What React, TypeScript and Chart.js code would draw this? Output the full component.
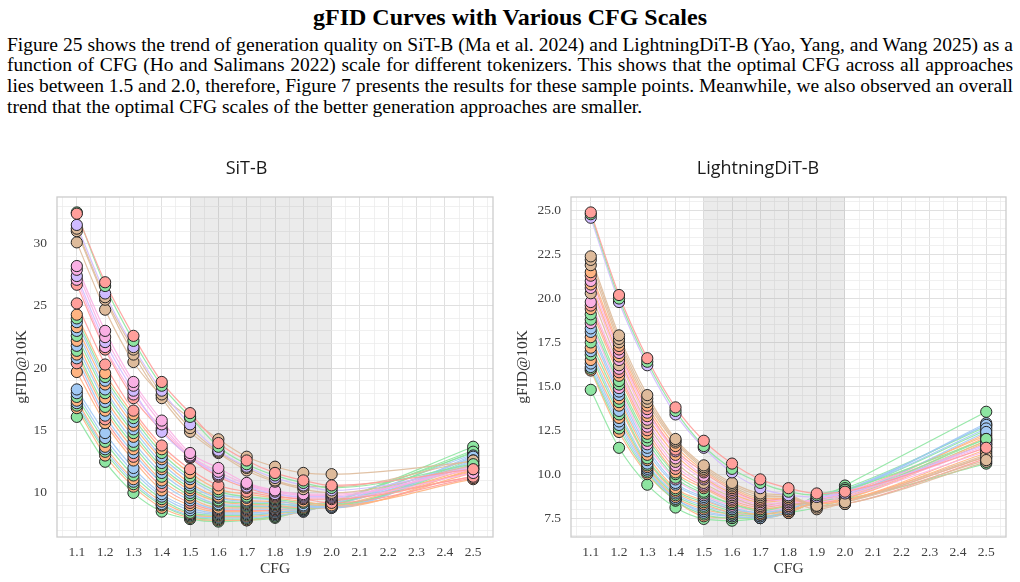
import { useEffect, useRef } from 'react';
import { Chart, registerables } from 'chart.js';

Chart.register(...registerables);

// CFG scales that were sampled for every tokenizer
const cfgScales = [1.1, 1.2, 1.3, 1.4, 1.5, 1.6, 1.7, 1.8, 1.9, 2.0, 2.5];
const cfgTickLabels = ['1.1', '1.2', '1.3', '1.4', '1.5', '1.6', '1.7', '1.8', '1.9', '2.0', '2.1', '2.2', '2.3', '2.4', '2.5'];
const optimalBand = [1.5, 2.0];

const pastel: Record<string, string> = {
  blue: '#a1c9f4',
  orange: '#ffb482',
  green: '#8de5a1',
  red: '#ff9f9b',
  purple: '#d0bbff',
  brown: '#debb9b',
  pink: '#fab0e4',
};

// ---- SiT-B: gFID@10K per tokenizer, one value per CFG scale ----
const sitWeakCurves = [
  [32.4, 26.9, 22.6, 18.9, 16.4, 14.0, 12.6, 11.6, 11.0, 10.6, 11.9],
  [32.5, 26.6, 22.2, 18.6, 16.1, 13.7, 12.3, 11.4, 10.8, 10.4, 12.3],
  [31.5, 26.0, 21.7, 18.2, 15.5, 13.4, 12.1, 11.2, 10.6, 10.2, 12.0],
  [31.2, 25.7, 21.5, 17.9, 15.2, 13.3, 12.0, 11.0, 10.5, 10.5, 12.6],
  [31.0, 25.5, 21.1, 17.6, 14.9, 13.2, 11.8, 10.9, 10.3, 10.0, 12.2],
  [30.1, 24.7, 20.5, 17.8, 16.0, 14.3, 12.9, 12.1, 11.6, 11.5, 12.5],
];
const sitWeakColors = ['red', 'green', 'purple', 'brown', 'brown', 'brown'];

const sitMidCurves = [
  [28.2, 23.0, 18.9, 15.8, 13.2, 12.0, 10.8, 10.2, 9.9, 9.9, 11.9],
  [27.9, 22.5, 18.6, 15.5, 13.0, 11.7, 10.7, 10.1, 9.8, 9.8, 12.1],
  [27.4, 22.1, 18.2, 14.9, 12.9, 11.5, 10.5, 9.9, 9.7, 9.7, 12.2],
  [27.1, 21.7, 17.9, 15.2, 12.9, 11.4, 10.6, 10.0, 9.6, 9.6, 11.6],
  [26.7, 21.5, 17.6, 15.0, 12.8, 11.3, 10.4, 9.8, 9.5, 9.5, 11.3],
];
const sitMidColors = ['pink', 'pink', 'purple', 'pink', 'red'];

const sitStrongCurves = [
  [25.2, 20.3, 16.6, 13.8, 11.9, 10.6, 10.1, 9.7, 9.5, 9.2, 11.2],
  [24.3, 19.6, 16.3, 13.5, 11.6, 10.3, 9.9, 9.6, 9.3, 9.0, 11.1],
  [24.0, 19.3, 16.0, 13.2, 11.3, 10.1, 9.7, 9.5, 9.2, 9.1, 12.3],
  [23.7, 19.0, 15.7, 12.9, 11.1, 9.9, 9.6, 9.4, 9.0, 8.9, 12.6],
  [23.3, 18.7, 15.4, 12.7, 10.8, 9.7, 9.4, 9.3, 9.1, 8.9, 11.6],
  [23.0, 18.3, 15.1, 12.4, 10.6, 9.6, 9.3, 9.2, 8.9, 8.8, 12.9],
  [22.6, 18.0, 14.8, 12.1, 10.4, 9.4, 9.2, 9.1, 9.0, 9.0, 12.7],
  [22.2, 17.6, 14.5, 11.9, 10.2, 9.3, 9.1, 9.0, 8.8, 8.9, 11.8],
  [21.8, 17.3, 14.1, 11.6, 10.0, 9.1, 9.0, 8.9, 8.9, 8.9, 13.0],
  [21.4, 16.9, 13.8, 11.3, 9.8, 9.0, 8.9, 8.9, 8.7, 9.0, 13.3],
  [21.1, 16.6, 13.5, 11.0, 9.6, 8.8, 8.8, 8.8, 8.8, 8.8, 11.9],
  [20.8, 16.2, 13.2, 10.8, 9.4, 8.7, 8.7, 8.7, 8.7, 9.0, 12.4],
  [20.4, 15.9, 12.9, 10.5, 9.2, 8.6, 8.6, 8.6, 9.0, 9.3, 11.3],
  [19.7, 15.6, 12.6, 10.2, 9.0, 8.5, 8.5, 8.6, 8.7, 8.9, 12.0],
  [18.3, 14.8, 12.0, 9.9, 8.8, 8.4, 8.4, 8.5, 8.6, 9.1, 13.1],
  [18.0, 14.4, 11.7, 9.7, 8.6, 8.3, 8.3, 8.4, 8.7, 9.0, 12.8],
  [17.7, 14.1, 11.4, 9.5, 8.4, 8.2, 8.2, 8.4, 8.6, 9.2, 13.7],
  [17.4, 13.7, 11.1, 9.3, 8.3, 8.1, 8.1, 8.3, 8.6, 9.0, 12.2],
  [17.2, 13.5, 10.9, 9.1, 8.2, 8.0, 8.0, 8.2, 8.5, 9.1, 12.5],
  [17.0, 13.3, 10.7, 9.0, 8.1, 7.9, 7.9, 8.1, 8.6, 9.2, 13.4],
  [16.8, 13.0, 10.5, 8.8, 8.0, 7.8, 7.8, 8.1, 8.5, 9.1, 11.7],
  [16.1, 12.5, 10.0, 8.5, 7.9, 7.7, 7.8, 8.0, 8.6, 9.3, 13.2],
];
const sitStrongColors = [
  'red', 'orange', 'green', 'blue', 'orange', 'blue', 'green', 'orange', 'blue', 'green', 'orange',
  'blue', 'red', 'orange', 'blue', 'blue', 'green', 'orange', 'blue', 'green', 'orange', 'green',
];

// ---- LightningDiT-B ----
const ldtWeakCurves = [
  [24.9, 20.2, 16.6, 13.8, 11.9, 10.6, 9.7, 9.2, 8.9, 9.0, 11.5],
  [24.8, 20.0, 16.4, 13.6, 11.6, 10.3, 9.5, 9.0, 8.8, 9.1, 12.0],
  [24.6, 19.8, 16.2, 13.4, 11.5, 10.1, 9.2, 8.8, 8.7, 8.9, 11.7],
];
const ldtWeakColors = ['red', 'green', 'purple'];

const ldtStrongCurves = [
  [22.4, 17.9, 14.5, 12.0, 10.5, 9.5, 8.9, 8.8, 8.2, 8.4, 10.8],
  [22.2, 17.7, 14.3, 11.9, 10.4, 9.4, 8.8, 8.7, 8.2, 8.3, 10.7],
  [21.9, 17.5, 14.1, 11.8, 10.3, 9.3, 8.7, 8.7, 8.1, 8.4, 11.0],
  [21.5, 17.3, 13.9, 11.6, 10.2, 9.2, 8.6, 8.6, 8.3, 8.5, 11.2],
  [21.3, 17.1, 13.7, 11.4, 10.1, 9.1, 8.5, 8.6, 8.2, 8.3, 10.9],
  [21.0, 16.9, 13.5, 11.3, 9.9, 9.0, 8.5, 8.5, 8.4, 8.7, 11.3],
  [20.8, 16.7, 13.3, 11.1, 9.8, 8.9, 8.4, 8.5, 8.3, 8.5, 11.4],
  [20.6, 16.5, 13.1, 10.9, 9.7, 8.8, 8.3, 8.4, 8.5, 8.8, 11.5],
  [20.3, 16.2, 12.9, 10.7, 9.5, 8.7, 8.2, 8.4, 8.0, 8.4, 11.1],
  [19.8, 16.0, 12.7, 10.5, 9.4, 8.6, 8.2, 8.3, 8.6, 8.9, 11.6],
  [19.6, 15.8, 12.5, 10.3, 9.3, 8.5, 8.1, 8.3, 8.4, 8.5, 11.0],
  [19.4, 15.6, 12.3, 10.1, 9.2, 8.4, 8.0, 8.2, 8.4, 8.6, 11.8],
  [19.1, 15.3, 12.1, 10.0, 9.0, 8.3, 8.0, 8.2, 8.5, 8.8, 12.0],
  [18.8, 15.1, 11.9, 9.8, 8.9, 8.3, 7.9, 8.2, 8.5, 8.6, 10.6],
  [18.6, 14.9, 11.7, 9.7, 8.8, 8.2, 7.9, 8.1, 8.6, 9.0, 11.7],
  [18.3, 14.7, 11.5, 9.5, 8.7, 8.1, 7.8, 8.1, 8.5, 8.8, 12.4],
  [18.1, 14.5, 11.3, 9.4, 8.6, 8.0, 7.8, 8.0, 8.6, 9.0, 12.6],
  [17.8, 14.3, 11.1, 9.2, 8.5, 8.0, 7.7, 8.0, 8.3, 8.6, 11.9],
  [17.5, 14.1, 10.9, 9.1, 8.4, 7.9, 7.7, 8.0, 8.6, 9.0, 12.5],
  [17.2, 13.9, 10.8, 9.0, 8.3, 7.8, 7.7, 7.9, 8.4, 8.7, 12.1],
  [17.0, 13.6, 10.6, 8.9, 8.2, 7.8, 7.6, 7.9, 8.7, 9.1, 12.8],
  [16.8, 13.4, 10.5, 8.8, 8.1, 7.7, 7.6, 7.9, 8.8, 9.2, 12.7],
  [16.5, 13.2, 10.4, 8.7, 8.0, 7.7, 7.6, 7.8, 8.5, 8.8, 12.3],
  [16.3, 13.0, 10.3, 8.6, 7.9, 7.6, 7.5, 7.8, 8.6, 9.0, 12.9],
  [16.1, 12.8, 10.2, 8.6, 7.8, 7.6, 7.5, 7.9, 8.8, 9.1, 12.8],
  [16.0, 12.6, 10.1, 8.5, 7.7, 7.5, 7.5, 7.8, 8.5, 9.35, 13.55],
  [15.9, 12.4, 10.0, 8.5, 7.6, 7.5, 7.5, 7.8, 8.5, 8.9, 12.2],
  [14.8, 11.5, 9.4, 8.1, 7.45, 7.35, 7.5, 7.8, 8.1, 8.6, 11.9],
];
const ldtStrongColors = [
  'brown', 'brown', 'brown', 'orange', 'red', 'pink', 'orange', 'pink', 'brown', 'pink', 'red', 'orange',
  'green', 'green', 'pink', 'blue', 'blue', 'orange', 'green', 'orange', 'blue', 'green', 'orange', 'blue',
  'blue', 'green', 'orange', 'green',
];

const paragraphLines = [
  'Figure 25 shows the trend of generation quality on SiT-B (Ma et al. 2024) and LightningDiT-B (Yao, Yang, and Wang 2025) as a',
  'function of CFG (Ho and Salimans 2022) scale for different tokenizers. This shows that the optimal CFG across all approaches',
  'lies between 1.5 and 2.0, therefore, Figure 7 presents the results for these sample points. Meanwhile, we also observed an overall',
  'trend that the optimal CFG scales of the better generation approaches are smaller.',
];

const SERIF = '"Liberation Serif", "Times New Roman", serif';
const SANS = '"Open Sans", "Noto Sans", sans-serif';

function withAlpha(hex: string, a: number) {
  const n = parseInt(hex.slice(1), 16);
  return `rgba(${(n >> 16) & 255}, ${(n >> 8) & 255}, ${n & 255}, ${a})`;
}

function gridValues(min: number, max: number, step: number) {
  const out: number[] = [];
  for (let k = Math.ceil(min / step - 1e-9); k * step <= max + 1e-9; k++) {
    out.push(+(k * step).toFixed(4));
  }
  return out;
}

function onStep(v: number, step: number) {
  const r = v / step;
  return Math.abs(r - Math.round(r)) < 1e-6;
}

// shaded CFG band plus the light frame around the plotting area
const bandAndFrame = {
  id: 'bandAndFrame',
  beforeDatasetsDraw(chart: any) {
    const { ctx, chartArea, scales } = chart;
    const x0 = scales.x.getPixelForValue(optimalBand[0]);
    const x1 = scales.x.getPixelForValue(optimalBand[1]);
    ctx.save();
    ctx.fillStyle = 'rgba(128, 128, 128, 0.16)';
    ctx.fillRect(x0, chartArea.top, x1 - x0, chartArea.bottom - chartArea.top);
    ctx.restore();
  },
  afterDraw(chart: any) {
    const { ctx, chartArea } = chart;
    ctx.save();
    ctx.strokeStyle = '#cccccc';
    ctx.lineWidth = 1.3;
    ctx.strokeRect(chartArea.left, chartArea.top, chartArea.right - chartArea.left, chartArea.bottom - chartArea.top);
    ctx.restore();
  },
};

type PanelProps = {
  title: string;
  curves: number[][];
  colors: string[];
  yMin: number;
  yMax: number;
  yMajor: number;
  yMinor: number;
  yDigits: number;
  axisWidth: number;
  yTitleGap: number;
  rightGap: number;
  left: number;
};

function GfidPanel(p: PanelProps) {
  const ref = useRef<HTMLCanvasElement>(null);

  useEffect(() => {
    if (!ref.current) return;
    const lineSets = p.curves.map((vals, i) => ({
      data: cfgScales.map((x, j) => ({ x, y: vals[j] })),
      borderColor: withAlpha(pastel[p.colors[i]], 0.9),
      borderWidth: 1.2,
      pointRadius: 0,
      fill: false,
      cubicInterpolationMode: 'monotone' as const,
      order: 2,
    }));
    const dotSets = p.curves.map((vals, i) => ({
      data: cfgScales.map((x, j) => ({ x, y: vals[j] })),
      showLine: false,
      pointRadius: 5.6,
      pointBackgroundColor: pastel[p.colors[i]],
      pointBorderColor: '#262626',
      pointBorderWidth: 1,
      order: 1,
    }));

    const xMin = 1.03;
    const xMax = 2.57;
    const gridFont = { family: SERIF, size: 13.5 };

    const chart = new Chart(ref.current, {
      type: 'line',
      data: { datasets: [...lineSets, ...dotSets] as any },
      plugins: [bandAndFrame],
      options: {
        responsive: false,
        animation: false,
        events: [],
        layout: { padding: { left: 0, right: p.rightGap, top: 0, bottom: 0 } },
        plugins: {
          legend: { display: false },
          tooltip: { enabled: false },
          title: {
            display: true,
            text: p.title,
            color: '#1a1a1a',
            font: { family: SANS, size: 18, weight: 'normal', lineHeight: 1.2 },
            padding: { top: 18.2, bottom: 17.2 },
          },
        },
        scales: {
          x: {
            type: 'linear',
            min: xMin,
            max: xMax,
            afterBuildTicks: (s: any) => {
              s.ticks = gridValues(xMin, xMax, 0.05).map((value) => ({ value }));
            },
            afterFit: (s: any) => {
              s.height = 45;
            },
            ticks: {
              autoSkip: false,
              maxRotation: 0,
              minRotation: 0,
              padding: 7.6,
              color: '#404040',
              font: gridFont,
              callback: (v: any) => cfgTickLabels.find((l) => Math.abs(parseFloat(l) - Number(v)) < 1e-6) ?? '',
            },
            grid: {
              drawTicks: false,
              color: (c: any) => (onStep(c.tick.value, 0.1) ? '#e0e0e0' : '#ececec'),
              lineWidth: (c: any) => (onStep(c.tick.value, 0.1) ? 1 : 0.8),
            },
            border: { display: false },
            title: {
              display: true,
              text: 'CFG',
              color: '#333333',
              font: { family: SERIF, size: 15.5 },
              padding: { top: 0, bottom: 3.7 },
            },
          },
          y: {
            type: 'linear',
            min: p.yMin,
            max: p.yMax,
            afterBuildTicks: (s: any) => {
              s.ticks = gridValues(p.yMin, p.yMax, p.yMinor).map((value) => ({ value }));
            },
            afterFit: (s: any) => {
              s.width = p.axisWidth;
            },
            ticks: {
              autoSkip: false,
              padding: 10,
              color: '#404040',
              font: gridFont,
              callback: (v: any) => (onStep(Number(v), p.yMajor) ? Number(v).toFixed(p.yDigits) : ''),
            },
            grid: {
              drawTicks: false,
              color: (c: any) => (onStep(c.tick.value, p.yMajor) ? '#e0e0e0' : '#ececec'),
              lineWidth: (c: any) => (onStep(c.tick.value, p.yMajor) ? 1 : 0.8),
            },
            border: { display: false },
            title: {
              display: true,
              text: 'gFID@10K',
              color: '#333333',
              font: { family: SERIF, size: 15.5 },
              padding: { top: p.yTitleGap, bottom: 0 },
            },
          },
        },
      } as any,
    });
    return () => chart.destroy();
  }, []);

  return (
    <canvas
      ref={ref}
      width={510}
      height={442}
      style={{ position: 'absolute', left: p.left, top: 140, width: 510, height: 442 }}
    />
  );
}

export default function App() {
  return (
    <div
      style={{
        position: 'absolute',
        left: 0,
        top: 0,
        width: 1020,
        height: 582,
        overflow: 'hidden',
        background: '#ffffff',
        color: '#000000',
        fontFamily: SERIF,
      }}
    >
      <div
        style={{
          position: 'absolute',
          top: 2.8,
          left: 0,
          width: 1020,
          textAlign: 'center',
          fontWeight: 'bold',
          fontSize: 24,
          lineHeight: '28px',
        }}
      >
        gFID Curves with Various CFG Scales
      </div>
      {paragraphLines.map((line, i) => {
        const justified = i < paragraphLines.length - 1;
        return (
          <div
            key={i}
            style={{
              position: 'absolute',
              left: 7,
              width: 1006,
              top: 33.6 + i * 20.7,
              fontSize: 19.5,
              lineHeight: '21px',
              whiteSpace: 'nowrap',
              wordSpacing: justified ? -2.6 : 0,
              textAlign: 'justify',
              textAlignLast: justified ? 'justify' : 'left',
            }}
          >
            {line}
          </div>
        );
      })}
      <GfidPanel
        title="SiT-B"
        curves={[...sitWeakCurves, ...sitMidCurves, ...sitStrongCurves]}
        colors={[...sitWeakColors, ...sitMidColors, ...sitStrongColors]}
        yMin={6.46}
        yMax={33.74}
        yMajor={5}
        yMinor={1}
        yDigits={0}
        axisWidth={57}
        yTitleGap={12.7}
        rightGap={17}
        left={0}
      />
      <GfidPanel
        title="LightningDiT-B"
        curves={[...ldtWeakCurves, ...ldtStrongCurves]}
        colors={[...ldtWeakColors, ...ldtStrongColors]}
        yMin={6.42}
        yMax={25.78}
        yMajor={2.5}
        yMinor={0.5}
        yDigits={1}
        axisWidth={61}
        yTitleGap={3.7}
        rightGap={14}
        left={510}
      />
    </div>
  );
}
